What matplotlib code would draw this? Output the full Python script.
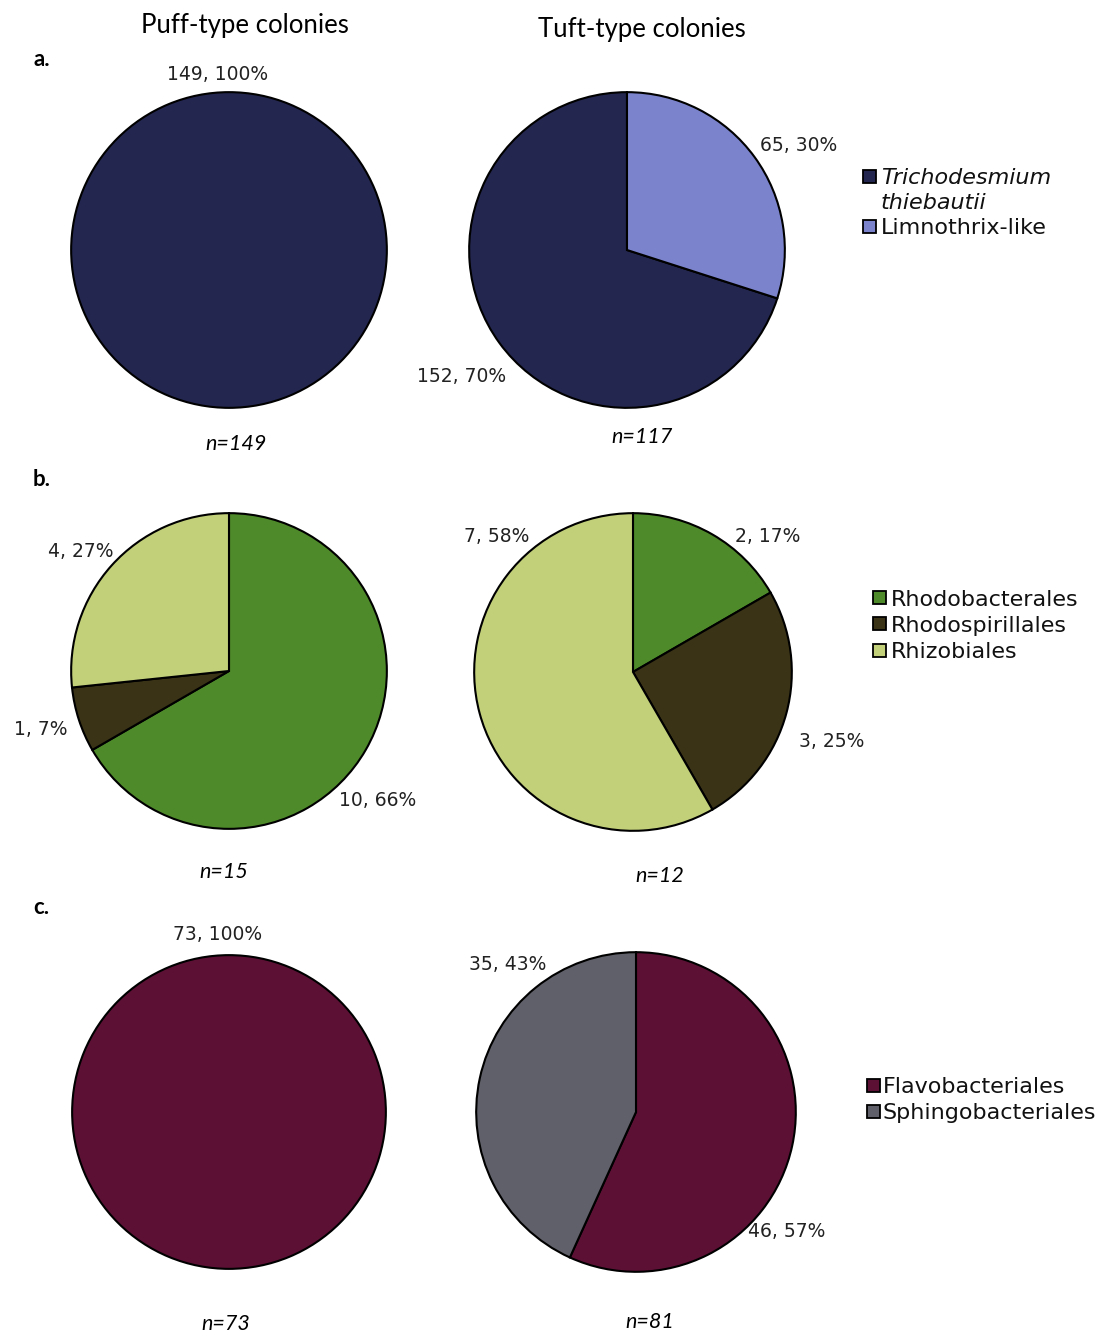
import matplotlib
matplotlib.use('Agg')
import matplotlib.pyplot as plt
from matplotlib.patches import Rectangle

W, H = 1111, 1341

# data
col_titles = ['Puff-type colonies', 'Tuft-type colonies']
panel_letters = ['a.', 'b.', 'c.']

a_names = ['Trichodesmium\nthiebautii', 'Limnothrix-like']
a_colors = ['#23264f', '#7b83cc']
a_puff = [149, 0]
a_tuft = [152, 65]
a_puff_pct = ['100%', '']
a_tuft_pct = ['70%', '30%']
a_n = ['n=149', 'n=117']

b_names = ['Rhodobacterales', 'Rhodospirillales', 'Rhizobiales']
b_colors = ['#4f8a2a', '#3a3316', '#c2d07a']
b_puff = [10, 1, 4]
b_tuft = [2, 3, 7]
b_puff_pct = ['66%', '7%', '27%']
b_tuft_pct = ['17%', '25%', '58%']
b_n = ['n=15', 'n=12']

c_names = ['Flavobacteriales', 'Sphingobacteriales']
c_colors = ['#5c1034', '#5f6069']
c_puff = [73, 0]
c_tuft = [46, 35]
c_puff_pct = ['100%', '']
c_tuft_pct = ['57%', '43%']
c_n = ['n=73', 'n=81']

# layout (pixels): pie centre/radius, label spots in radius units, n-label spots
rows = [
    dict(names=a_names, colors=a_colors, vals=[a_puff, a_tuft], pct=[a_puff_pct, a_tuft_pct],
         n=a_n, ccw=True, italic=True,
         pies=[(229, 250, 161), (627, 250, 161)],
         spots=[[(-0.07, 1.11), None], [(-1.05, -0.80), (1.09, 0.66)]],
         npos=[(236, 444), (642, 437)], letter_y=60,
         leg=dict(sq=863, tx=881, ys=[176, 226])),
    dict(names=b_names, colors=b_colors, vals=[b_puff, b_tuft], pct=[b_puff_pct, b_tuft_pct],
         n=b_n, ccw=False, italic=False,
         pies=[(229, 671, 161), (633, 672, 162)],
         spots=[[(0.94, -0.82), (-1.19, -0.37), (-0.94, 0.76)],
                [(0.85, 0.85), (1.25, -0.44), (-0.86, 0.85)]],
         npos=[(224, 872), (660, 876)], letter_y=479,
         leg=dict(sq=873, tx=891, ys=[598, 624, 650])),
    dict(names=c_names, colors=c_colors, vals=[c_puff, c_tuft], pct=[c_puff_pct, c_tuft_pct],
         n=c_n, ccw=False, italic=False,
         pies=[(229, 1112, 160), (636, 1112, 163)],
         spots=[[(-0.075, 1.13), None], [(0.94, -0.75), (-0.80, 0.92)]],
         npos=[(226, 1324), (650, 1322)], letter_y=908,
         leg=dict(sq=867, tx=883, ys=[1085, 1111])),
]

label_font = 'DejaVu Sans'
title_font = 'Lato'

fig = plt.figure(figsize=(W / 100, H / 100), dpi=100)


def fx(x):
    return x / W


def fy(y):
    return 1 - y / H


for title, x, y in zip(col_titles, [245, 642], [25, 30]):
    fig.text(fx(x), fy(y), title, ha='center', va='center', family=title_font, size=18.5)

for row, letter in zip(rows, panel_letters):
    fig.text(fx(33), fy(row['letter_y']), letter, ha='left', va='center',
             family=title_font, weight='bold', size=16)

    for k, (cx, cy, r) in enumerate(row['pies']):
        ax = fig.add_axes([fx(cx - r), fy(cy + r), 2 * r / W, 2 * r / H])
        vals = row['vals'][k]
        keep = [i for i, v in enumerate(vals) if v > 0]
        ax.pie([vals[i] for i in keep], colors=[row['colors'][i] for i in keep],
               startangle=90, counterclock=row['ccw'], radius=1,
               wedgeprops=dict(edgecolor='black', linewidth=1.5))
        ax.set_xlim(-1.02, 1.02)
        ax.set_ylim(-1.02, 1.02)
        ax.axis('off')
        for i, spot in enumerate(row['spots'][k]):
            if spot is None or vals[i] == 0:
                continue
            ax.text(spot[0], spot[1], f'{vals[i]}, {row["pct"][k][i]}', ha='center', va='center',
                    family=label_font, size=13.5, color='#222222', clip_on=False)
        nx, ny = row['npos'][k]
        fig.text(fx(nx), fy(ny), row['n'][k], ha='center', va='center',
                 family=title_font, style='italic', size=15.5)

    leg = row['leg']
    for name, color, y in zip(row['names'], row['colors'], leg['ys']):
        s = 13
        fig.add_artist(Rectangle((fx(leg['sq']), fy(y + s / 2)), s / W, s / H,
                                 transform=fig.transFigure, facecolor=color,
                                 edgecolor='black', linewidth=1.3))
        style = 'italic' if row['italic'] and '\n' in name else 'normal'
        for j, line in enumerate(name.split('\n')):
            fig.text(fx(leg['tx']), fy(y + 25 * j), line, ha='left', va='center_baseline',
                     family=label_font, size=16, style=style, color='#111111')

fig.savefig('out.png', dpi=100, facecolor='white')
